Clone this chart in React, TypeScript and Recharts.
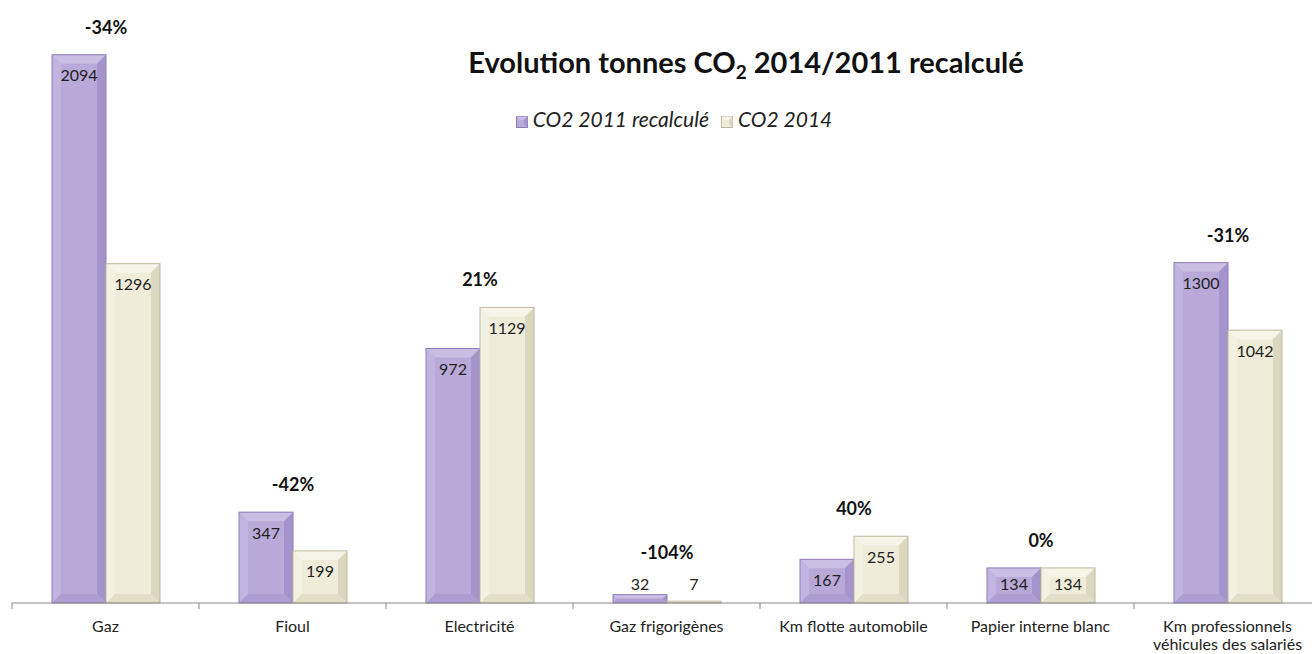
import { BarChart, Bar, XAxis, YAxis, LabelList } from "recharts";

const categories = [
  "Gaz",
  "Fioul",
  "Electricité",
  "Gaz frigorigènes",
  "Km flotte automobile",
  "Papier interne blanc",
  "Km professionnels\nvéhicules des salariés",
];
const co2_2011 = [2094, 347, 972, 32, 167, 134, 1300];
const co2_2014 = [1296, 199, 1129, 7, 255, 134, 1042];
const evolution = ["-34%", "-42%", "21%", "-104%", "40%", "0%", "-31%"];

const data = categories.map((name, i) => ({
  name,
  a: co2_2011[i],
  b: co2_2014[i],
  pct: evolution[i],
}));

const FONT = "Lato, 'Open Sans', sans-serif";

const purple = {
  face: "#b8a9d9",
  top: "#cabee5",
  left: "#c1b4e0",
  right: "#a594cb",
  bottom: "#ad9dd1",
  stroke: "#8f7db8",
};
const beige = {
  face: "#efedda",
  top: "#f7f5e9",
  left: "#f3f1e2",
  right: "#dcd8bf",
  bottom: "#e2dec8",
  stroke: "#bfba9f",
};

function bevelShape(c: typeof purple) {
  return (props: any) => {
    const { x, y, width: w, height: h } = props;
    if (!h || h <= 0) return <g />;
    const b = Math.min(9, w / 2, h / 2);
    const x2 = x + w;
    const y2 = y + h;
    return (
      <g>
        <rect x={x} y={y} width={w} height={h} fill={c.face} />
        <polygon points={`${x},${y} ${x2},${y} ${x2 - b},${y + b} ${x + b},${y + b}`} fill={c.top} />
        <polygon points={`${x},${y} ${x + b},${y + b} ${x + b},${y2 - b} ${x},${y2}`} fill={c.left} />
        <polygon points={`${x2},${y} ${x2},${y2} ${x2 - b},${y2 - b} ${x2 - b},${y + b}`} fill={c.right} />
        <polygon points={`${x},${y2} ${x2},${y2} ${x2 - b},${y2 - b} ${x + b},${y2 - b}`} fill={c.bottom} />
        <rect x={x} y={y} width={w} height={h} fill="none" stroke={c.stroke} strokeWidth={1} />
      </g>
    );
  };
}

const valueLabel = (props: any) => {
  const { x, y, width, value } = props;
  const ly = Math.min(y + 20, 583);
  return (
    <text x={x + width / 2} y={ly} textAnchor="middle" dominantBaseline="central" fontSize={16} fontFamily={FONT} fill="#222">
      {value}
    </text>
  );
};

// percentage shown above the taller bar of each group
const pctLabel = (own: "a" | "b") => (props: any) => {
  const { x, y, width, index } = props;
  const d = data[index];
  const isTaller = own === "a" ? d.a >= d.b : d.b > d.a;
  if (!isTaller) return <g />;
  const cx = own === "a" ? x + width : x;
  const ly = Math.min(y - 28, 552);
  return (
    <text x={cx} y={ly} textAnchor="middle" dominantBaseline="central" fontSize={18} fontWeight="bold" fontFamily={FONT} fill="#111">
      {d.pct}
    </text>
  );
};

const CategoryTick = (props: any) => {
  const { x, y, payload } = props;
  const lines = String(payload.value).split("\n");
  const band = 1309 / categories.length;
  return (
    <g>
      <line x1={x - band / 2} y1={y - 8} x2={x - band / 2} y2={y - 2} stroke="#888" />
      {payload.index === categories.length - 1 && (
        <line x1={x + band / 2} y1={y - 8} x2={x + band / 2} y2={y - 2} stroke="#888" />
      )}
      {lines.map((t, i) => (
        <text key={i} x={x} y={y + 21 + i * 18} textAnchor="middle" fontSize={16} fontFamily={FONT} fill="#222">
          {t}
        </text>
      ))}
    </g>
  );
};

const LegendSwatch = ({ c }: { c: typeof purple }) => (
  <svg width={12} height={12} style={{ marginRight: 5, verticalAlign: "-1px" }}>
    <rect x={0.5} y={0.5} width={11} height={11} fill={c.face} stroke={c.stroke} />
    <polygon points="0.5,0.5 11.5,0.5 8,4 4,4" fill={c.top} />
    <polygon points="11.5,0.5 11.5,11.5 8,8 8,4" fill={c.right} />
  </svg>
);

export default function App() {
  return (
    <div style={{ position: "absolute", left: 0, top: 0, width: 1312, height: 654, overflow: "hidden", background: "#fff" }}>
      <div
        style={{
          position: "absolute",
          left: 0,
          top: 44,
          width: 1492,
          textAlign: "center",
          fontFamily: FONT,
          fontWeight: "bold",
          fontSize: 29,
          color: "#111",
          zIndex: 2,
        }}
      >
        Evolution tonnes CO<sub style={{ fontSize: 19, verticalAlign: "-6px" }}>2</sub> 2014/2011 recalculé
      </div>
      <div
        style={{
          position: "absolute",
          left: 0,
          top: 106,
          width: 1348,
          textAlign: "center",
          fontFamily: FONT,
          fontStyle: "italic",
          fontSize: 21,
          color: "#222",
          zIndex: 2,
        }}
      >
        <span style={{ marginRight: 12 }}>
          <LegendSwatch c={purple} />
          CO2 2011 recalculé
        </span>
        <span>
          <LegendSwatch c={beige} />
          CO2 2014
        </span>
      </div>
      <BarChart
        width={1330}
        height={654}
        data={data}
        margin={{ top: 27, right: 9, bottom: 11, left: 12 }}
        barCategoryGap={40}
        barGap={0}
      >
        <XAxis
          dataKey="name"
          height={40}
          interval={0}
          tickLine={false}
          axisLine={{ stroke: "#888" }}
          tick={<CategoryTick />}
        />
        <YAxis hide domain={[0, 2200]} />
        <Bar dataKey="a" name="CO2 2011 recalculé" shape={bevelShape(purple)} isAnimationActive={false}>
          <LabelList dataKey="a" content={valueLabel} />
          <LabelList dataKey="a" content={pctLabel("a")} />
        </Bar>
        <Bar dataKey="b" name="CO2 2014" shape={bevelShape(beige)} isAnimationActive={false}>
          <LabelList dataKey="b" content={valueLabel} />
          <LabelList dataKey="b" content={pctLabel("b")} />
        </Bar>
      </BarChart>
    </div>
  );
}
